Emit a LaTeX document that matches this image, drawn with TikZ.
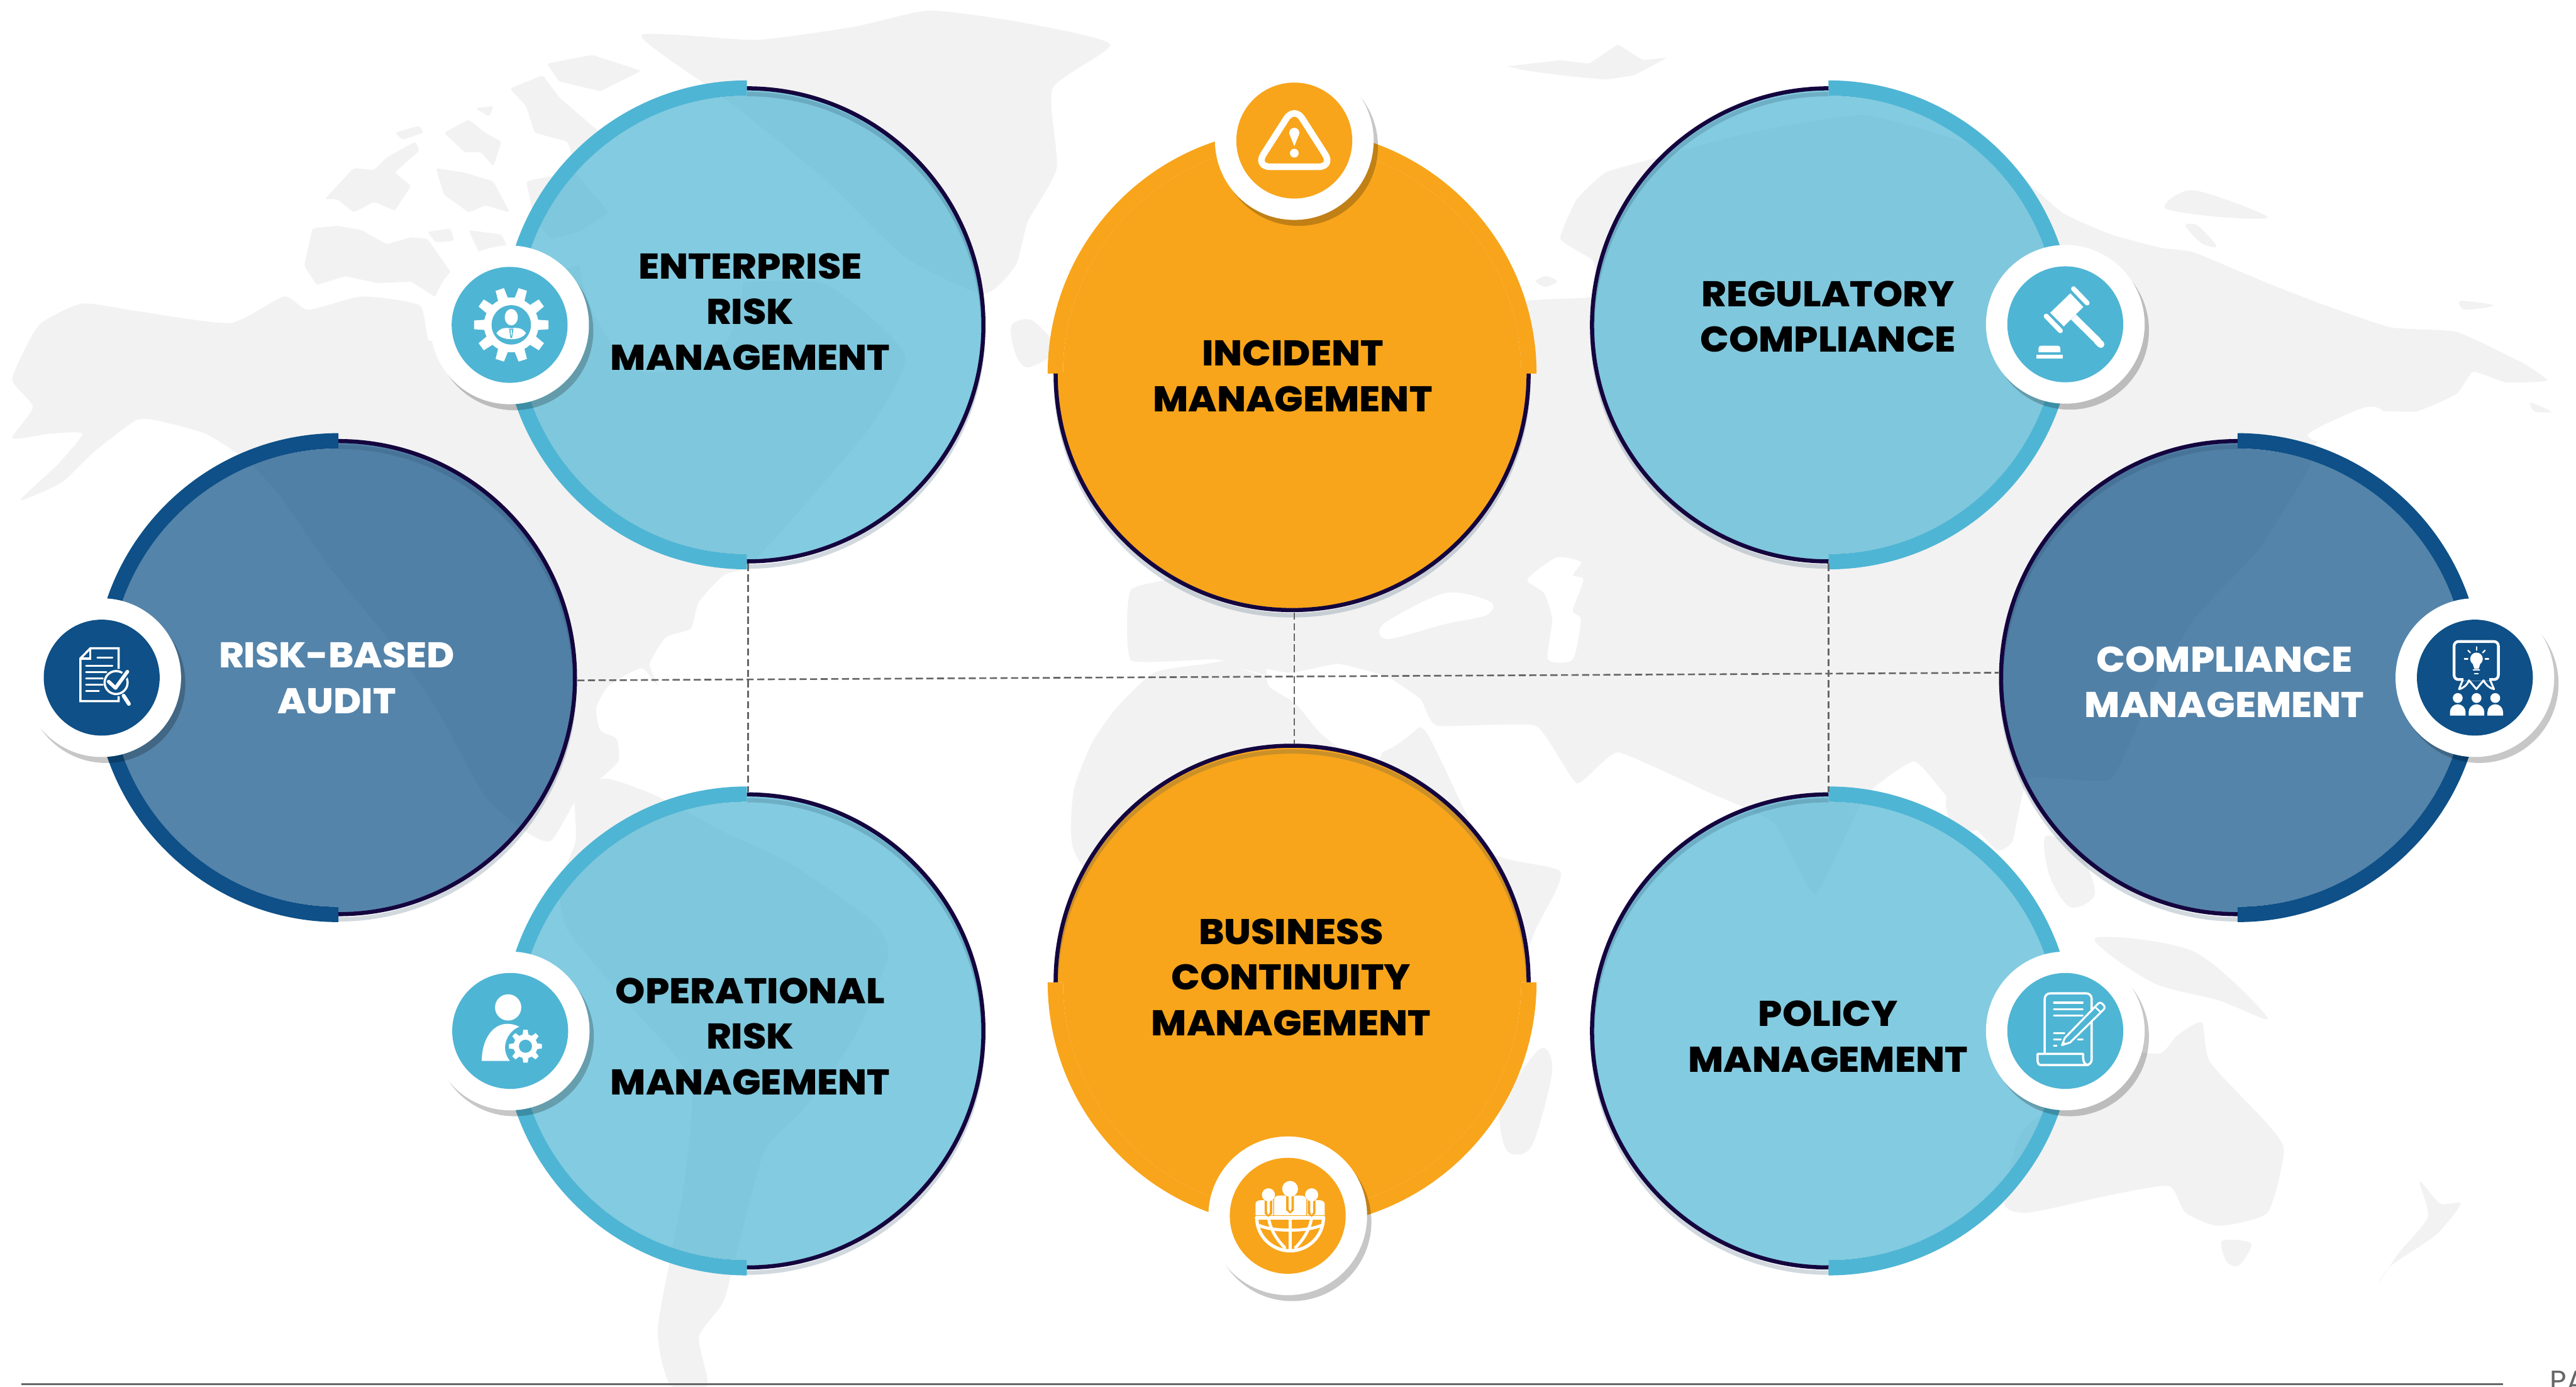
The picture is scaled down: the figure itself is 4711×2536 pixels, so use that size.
\documentclass[tikz,border=0pt]{standalone}
\usepackage{fontspec}
\setmainfont{Poppins}
\newfontfamily\labf{Poppins ExtraBold}[FakeStretch=1.06]
\definecolor{mapc}{HTML}{F2F2F2}
\definecolor{lblue}{HTML}{4FB5D4}
\definecolor{dblue}{HTML}{0E5087}
\definecolor{orng}{HTML}{F8A51B}
\definecolor{inkline}{HTML}{14053F}
\definecolor{dashc}{HTML}{666666}
\definecolor{shadc}{HTML}{1B3F5E}
\tikzset{
  lw/.style={line width=#1*0.2845pt},
  hub/.style={circle,minimum size=8.72cm,inner sep=0pt,draw=none},
  badgew/.style={circle,minimum size=2.9cm,inner sep=0pt,fill=white,draw=none},
  lab/.style={align=center,inner sep=0pt,font=\labf\fontsize{18.6}{23.8}\selectfont},
  link/.style={dashc,lw=3,dash pattern=on 3.7pt off 1.8pt},
  ico/.style={white,lw=4,line cap=round,line join=round},
  isle/.style={mapc,rounded corners=0.04cm},
}
\newcommand{\bub}[5]{%
  \fill[#3,fill opacity=#4,shift={(#1,#2)},rotate=#5] (0,419) arc (90:270:419) -- (0,-429) arc (-90:90:429) -- cycle;
  \draw[lw=8,shadc,opacity=.2,shift={(#1,#2-10)},rotate=#5] (0,-432) arc (-90:90:432);
  \fill[#3,shift={(#1,#2)},rotate=#5] (0,447) arc (90:270:447) -- (0,-419) arc (270:90:419) -- cycle;
  \draw[lw=7.5,inkline,shift={(#1,#2)},rotate=#5] (0,-432.5) arc (-90:90:432.5);
}
\newcommand{\badge}[5]{%
  \fill[black,opacity=.22] (#2+8,#3-11) circle (145);
  \node[badgew] (#1) at (#2,#3) {};
  \fill[#4] (#2,#3) circle (106);
  \begin{scope}[shift={(#2,#3)}]#5\end{scope}
}
\newcommand{\teeth}[4]{% n, r-root, r-tip, half width
  \foreach \a in {1,...,#1}{\fill[white,rotate=\a*360/#1] (#2,-#4-1.5) -- (#3,-#4) -- (#3,#4) -- (#2,#4+1.5) -- cycle;}
}
\begin{document}
\begin{tikzpicture}[x=0.01cm,y=0.01cm]
\useasboundingbox (0,0) rectangle (4711,-2536);
\clip (0,0) rectangle (4711,-2536);
\fill[white] (0,0) rectangle (4711,-2536);
% ---------- world map, left half
\begin{scope}[x=0.015026cm,y=-0.016173cm]
\fill[mapc] plot[smooth cycle,tension=.35] coordinates {(15,430)(30,395)(50,365)(100,343)(170,352)(280,365)(345,335)(375,350)(440,335)(510,345)(522,385)(560,370)(700,300)(850,320)(1000,320)(1100,400)(1060,480)(960,590)(910,640)(880,650)(850,680)(840,710)(810,720)(790,750)(800,775)(780,755)(740,775)(725,800)(730,825)(750,835)(752,860)(730,880)(700,905)(670,950)(640,940)(590,900)(530,800)(470,720)(400,640)(340,560)(300,520)(250,490)(190,475)(165,475)(115,510)(75,545)(25,565)(70,525)(100,490)(60,490)(15,495)(40,460)};
\fill[white] plot[smooth cycle,tension=.5] coordinates {(710,280)(800,240)(900,290)(880,390)(780,420)(720,350)};
\fill[mapc] plot[smooth cycle,tension=.35] coordinates {(780,40)(920,45)(1040,30)(1130,12)(1240,25)(1350,50)(1280,100)(1285,190)(1250,250)(1235,300)(1195,332)(1100,290)(1000,200)(880,110)};
% arctic islands
\fill[isle] (395,225) -- (415,205) -- (430,190) -- (455,192) -- (470,178) -- (505,160) -- (510,170) -- (480,195) -- (500,210) -- (480,238) -- (455,228) -- (430,240) -- (410,225) -- cycle;
\fill[isle] (370,300) -- (380,258) -- (410,255) -- (440,260) -- (470,276) -- (500,268) -- (520,270) -- (535,290) -- (550,310) -- (530,336) -- (500,318) -- (460,320) -- (420,312) -- (385,322) -- cycle;
\fill[isle] (540,150) -- (570,135) -- (590,150) -- (610,160) -- (600,188) -- (585,172) -- (565,172) -- cycle;
\fill[isle] (578,122) -- (600,120) -- (595,132) -- cycle;
\fill[isle] (620,100) -- (660,85) -- (680,110) -- (705,130) -- (730,150) -- (700,185) -- (690,160) -- (650,150) -- (640,120) -- cycle;
\fill[isle] (530,190) -- (565,195) -- (600,205) -- (620,240) -- (590,232) -- (570,240) -- (540,220) -- cycle;
\fill[isle] (665,72) -- (720,62) -- (780,80) -- (730,103) -- (680,92) -- cycle;
\fill[isle] (640,205) -- (665,200) -- (700,195) -- (740,240) -- (705,262) -- (670,270) -- (650,248) -- cycle;
\fill[isle] (570,260) -- (610,265) -- (625,295) -- (590,300) -- cycle;
\fill[isle] (480,150) -- (510,142) -- (515,150) -- (490,158) -- cycle;
\fill[isle] (520,262) -- (548,258) -- (552,272) -- (530,274) -- cycle;
\fill[mapc] plot[smooth cycle,tension=.5] coordinates {(1230,368)(1255,362)(1285,395)(1250,415)(1235,400)};
\fill[mapc] plot[smooth cycle,tension=.35] coordinates {(700,890)(740,880)(800,900)(880,940)(960,975)(1060,1040)(1080,1080)(1040,1170)(980,1250)(930,1300)(900,1400)(880,1470)(850,1510)(860,1565)(815,1565)(800,1500)(830,1350)(840,1220)(760,1130)(690,1050)(680,1000)(700,950)};
\end{scope}
% ---------- world map, right half
\begin{scope}[xshift=23.56cm,x=0.015026cm,y=-0.016173cm]
\fill[mapc] plot[smooth cycle,tension=.25] coordinates {(370,295)(330,270)(350,225)(385,195)(440,180)(560,150)(700,130)(850,170)(940,240)(1000,265)(1060,280)(1100,285)(1190,320)(1260,345)(1340,370)(1420,375)(1500,410)(1530,430)(1480,432)(1440,420)(1420,445)(1370,465)(1300,465)(1250,500)(1240,530)(1180,620)(1100,700)(1050,780)(1000,880)(900,880)(880,950)(860,960)(800,900)(760,860)(700,900)(640,1010)(590,930)(510,895)(400,850)(350,885)(300,820)(180,820)(160,790)(120,765)(60,750)(0,760)(-90,745)(-192,746)(-192,666)(-100,640)(-50,500)(100,380)(290,340)(370,335)};
\fill[mapc] plot[smooth cycle,tension=.35] coordinates {(-262,894)(-240,840)(-210,800)(-164,760)(-100,750)(-65,745)(-30,745)(-25,775)(8,795)(40,830)(100,870)(120,840)(165,825)(240,960)(330,985)(300,1050)(270,1120)(200,1220)(130,1290)(50,1330)(-50,1250)(-200,1050)(-262,960)};
\fill[mapc] plot[smooth cycle,tension=.5] coordinates {(305,1185)(320,1210)(295,1295)(265,1300)(258,1250)};
\fill[mapc] plot[smooth cycle,tension=.5] coordinates {(300,318)(312,312)(326,318)(312,324)};
\fill[white] plot[smooth cycle,tension=.5] coordinates {(115,705)(190,670)(245,680)(240,695)(190,705)(120,722)};
\fill[white] plot[smooth cycle,tension=.4] coordinates {(290,655)(325,630)(355,635)(345,650)(358,655)(345,690)(355,700)(345,745)(315,745)(320,700)(310,670)};
\fill[white] plot[smooth cycle,tension=.4] coordinates {(-60,755)(30,780)(90,775)(150,800)(165,815)(110,850)(40,815)(0,790)(-25,765)};
\fill[white] plot[smooth cycle,tension=.5] coordinates {(1240,490)(1310,460)(1330,470)(1270,500)};
\fill[isle] (265,75) -- (330,68) -- (365,72) -- (400,50) -- (430,68) -- (460,65) -- (420,85) -- (385,90) -- (330,85) -- (290,80) -- cycle;
\fill[mapc] plot[smooth cycle,tension=.5] coordinates {(1065,235)(1100,215)(1190,245)(1130,245)};
\fill[mapc] plot[smooth cycle,tension=.5] coordinates {(1090,255)(1105,255)(1128,278)(1110,275)};
\fill[mapc] plot[smooth cycle,tension=.5] coordinates {(1425,340)(1465,345)(1430,350)};
\fill[mapc] plot[smooth cycle,tension=.5] coordinates {(1510,455)(1535,465)(1515,465)};
\fill[mapc] plot[smooth cycle,tension=.5] coordinates {(800,900)(840,895)(850,930)(810,940)};
\fill[mapc] plot[smooth cycle,tension=.5] coordinates {(920,945)(960,960)(980,1010)(950,1025)(925,990)};
\fill[mapc] plot[smooth cycle,tension=.5] coordinates {(980,1060)(1100,1075)(1190,1150)(1130,1130)(1050,1110)};
\fill[mapc] plot[smooth cycle,tension=.35] coordinates {(1080,1170)(1110,1155)(1120,1200)(1190,1270)(1210,1300)(1190,1370)(1130,1385)(1090,1370)(1070,1340)(1000,1350)(900,1370)(870,1360)(890,1280)(960,1230)(1010,1190)(1060,1190)};
\fill[mapc] plot[smooth cycle,tension=.5] coordinates {(1135,1402)(1170,1405)(1155,1430)(1140,1425)};
\fill[mapc] plot[smooth cycle,tension=.4] coordinates {(1375,1335)(1400,1360)(1425,1360)(1395,1395)(1340,1430)(1325,1450)(1350,1415)(1385,1375)};
\end{scope}
% ---------- bubbles
\bub{1366}{-594}{lblue}{.7}{0}
\bub{1366}{-1885}{lblue}{.7}{0}
\bub{3344}{-594}{lblue}{.7}{180}
\bub{3344}{-1885}{lblue}{.7}{180}
\bub{619}{-1239}{dblue}{.7}{0}
\bub{4092}{-1239}{dblue}{.7}{180}
\bub{2363}{-683}{orng}{1}{-90}
\bub{2363}{-1796}{orng}{1}{90}
\node[hub] (erm) at (1366,-594) {};
\node[hub] (orm) at (1366,-1885) {};
\node[hub] (rc) at (3344,-594) {};
\node[hub] (pm) at (3344,-1885) {};
\node[hub] (rba) at (619,-1239) {};
\node[hub] (cm) at (4092,-1239) {};
\node[hub] (im) at (2363,-683) {};
\node[hub] (bcm) at (2363,-1796) {};
% ---------- connectors
\draw[link] ([xshift=0.02cm]erm.south) -- ([xshift=0.02cm]orm.north);
\draw[link] ([xshift=0.04cm]im.south) -- ([xshift=0.04cm]bcm.north);
\draw[link] (rc.south) -- (pm.north);
\draw[link] ([yshift=-0.05cm]rba.east) -- ([yshift=0.09cm]cm.west);
% ---------- labels
\node[lab] (t1) at (1372,-570) {ENTERPRISE\\RISK\\MANAGEMENT};
\node[lab] (t2) at (2364,-688) {INCIDENT\\MANAGEMENT};
\node[lab] (t3) at (3343,-579) {REGULATORY\\COMPLIANCE};
\node[lab,white] (t4) at (616,-1240) {RISK-BASED\\AUDIT};
\node[lab,white] (t5) at (4068,-1247) {COMPLIANCE\\MANAGEMENT};
\node[lab] (t6) at (1372,-1895) {OPERATIONAL\\RISK\\MANAGEMENT};
\node[lab] (t7) at (2361,-1787) {BUSINESS\\CONTINUITY\\MANAGEMENT};
\node[lab] (t8) at (3343,-1895) {POLICY\\MANAGEMENT};
% ---------- badges and icons
\badge{b1}{932}{-594}{lblue}{%
  \begin{scope}[shift={(3,0)}]
  \fill[white] (0,0) circle (50);
  \teeth{10}{46}{68}{8}
  \fill[lblue] (0,0) circle (36);
  \fill[white] (0,14) ellipse (12 and 15);
  \fill[white] (-27,-15) .. controls (-18,-3) and (-8,-6) .. (0,-6) .. controls (8,-6) and (18,-3) .. (27,-15) .. controls (18,-30) and (-18,-30) .. (-27,-15) -- cycle;
  \fill[lblue] (-4,-7) -- (4,-7) -- (1.5,-24) -- (-1.5,-24) -- cycle;
  \fill[white] (-1.5,-9) -- (1.5,-9) -- (.5,-20) -- (-.5,-20) -- cycle;
  \end{scope}}
\badge{b2}{2367}{-257}{orng}{%
  \draw[ico,lw=12,rounded corners=0.27cm] (0,63) -- (-71,-48) -- (71,-48) -- cycle;
  \fill[white] (-9.3,14) arc (180:0:9.3) -- (0,-10) -- cycle;
  \fill[white] (-9,12) -- (9,12) -- (0,-10) -- cycle;
  \fill[white] (0,-23) circle (8);}
\badge{b3}{3777}{-593}{lblue}{%
  \fill[white] (9.3,56.7) -- (33,31.7) -- (-2.7,-4) -- (-27.7,21) -- cycle;
  \draw[ico,lw=9] (15,65) -- (40,39);
  \draw[ico,lw=9] (-35,15) -- (-9,-11.7);
  \draw[ico,lw=13,line cap=butt] (15,13.3) -- (60,-31);
  \fill[white] (65,-36.7) circle (6.5);
  \draw[white,lw=13] (58,-29.7) -- (65,-36.7);
  \fill[white] (-49,-51) -- (-49,-44) .. controls (-49,-41) and (-47,-39) .. (-44,-39) -- (-14,-39) .. controls (-11,-39) and (-9,-41) .. (-9,-44) -- (-9,-51) -- cycle;
  \fill[white] (-53,-56) rectangle (-5,-63);}
\badge{b4}{186}{-1239}{dblue}{%
  \draw[ico,lw=4,line cap=butt,line join=miter] (31,16) -- (31,53.7) -- (-20.7,53.7) -- (-39,35) -- (-39,-43) -- (31,-43) -- (31,-34);
  \draw[ico,lw=4,line cap=butt,line join=miter] (-20.7,52) -- (-20.7,35) -- (-38,35);
  \draw[ico,lw=3] (-8,36.7) -- (19.7,36.7) (-28.7,21.7) -- (19.7,21.7) (-28.7,10) -- (8.7,10) (-28.7,-1.7) -- (2,-1.7) (-28.7,-13) -- (2,-13) (-28.7,-24.7) -- (-5,-24.7);
  \fill[dblue] (26.3,-9) circle (22);
  \draw[ico,lw=4] (26.3,-9) circle (21);
  \draw[ico,lw=7] (40,-33) -- (49.7,-48);
  \draw[dblue,lw=12] (12.7,-7.3) -- (25.3,-19) -- (47,11);
  \draw[ico,lw=6.5] (12.7,-7.3) -- (25.3,-19) -- (47,11);}
\badge{b5}{4526}{-1239}{dblue}{%
  \draw[ico,lw=5,rounded corners=0.08cm] (-38,66) rectangle (43,-3.5);
  \fill[dblue] (-21,-6) rectangle (26,-1);
  \draw[ico,lw=3.5] (-22,-4) -- (-29,-21) .. controls (-20,-19) and (-14,-13) .. (-10.7,-5) -- (2.7,-21) -- (16,-5) .. controls (20,-13) and (26,-19) .. (35,-21) -- (27.7,-4);
  \fill[white] (3,34.3) circle (11.5);
  \fill[white] (-5,29) -- (11,29) -- (7,16) -- (-1,16) -- cycle;
  \draw[ico,lw=2.5] (-3,13.7) -- (8.5,13.7) (-.5,7.5) -- (6,7.5);
  \foreach \a in {90,45,135,0,180}{\draw[ico,lw=2.5,shift={(3,34.3)},rotate=\a] (16,0) -- (22,0);}
  \foreach \c in {-31.3,3,37.3}{
    \fill[white] (\c,-37.3) circle (9);
    \fill[white] (\c-14.3,-69.3) -- (\c-14.3,-63) arc (180:0:14.3) -- (\c+14.3,-69.3) -- cycle;}}
\badge{b6}{933}{-1885}{lblue}{%
  \fill[white] (-3.7,43) circle (24);
  \fill[white] (-52,-54.7) .. controls (-52,-20) and (-35,13) .. (-5,13) .. controls (3,13) and (10,11) .. (16.7,7.7) .. controls (-4,0) and (-20,-30) .. (-0.7,-54.7) -- cycle;
  \begin{scope}[shift={(28,-28)}]
  \fill[white] (0,0) circle (22);
  \teeth{8}{20}{30}{4}
  \fill[lblue] (0,0) circle (12);
  \end{scope}}
\badge{b7}{2355}{-2223}{orng}{%
  \begin{scope}[shift={(4.3,0)}]
  \draw[ico,lw=6] (-61,-3) arc (180:360:61);
  \draw[ico,lw=7] (-61,-4) -- (61,-4);
  \draw[ico,lw=6] (0,-4) -- (0,-62);
  \draw[ico,lw=5.5] (-39,-6) .. controls (-35,-28) and (-22,-46) .. (-10,-58);
  \draw[ico,lw=5.5] (39,-6) .. controls (35,-28) and (22,-46) .. (10,-58);
  \draw[ico,lw=5.5] (-56,-18) .. controls (-30,-29) and (30,-29) .. (56,-18);
  \end{scope}
  \fill[white] (-24.7,1) -- (-24.7,30) .. controls (-24.7,35) and (-20,37) .. (-15,37) -- (24,37) .. controls (29,37) and (33.7,35) .. (33.7,30) -- (33.7,1) -- cycle;
  \fill[white] (-59,1) -- (-59,21) .. controls (-59,26) and (-55,28.3) .. (-50,28.3) -- (-26.3,28.3) -- (-26.3,1) -- cycle;
  \fill[white] (35.3,1) -- (35.3,28.3) -- (59,28.3) .. controls (63,28.3) and (67.7,26) .. (67.7,21) -- (67.7,1) -- cycle;
  \foreach \c/\t in {4.3/32,-35.3/26,43.7/26}{
    \fill[orng] (\c-7,\t+5) -- (\c+7,\t+5) -- (\c+7,\t-22) -- (\c,\t-28) -- (\c-7,\t-22) -- cycle;
    \fill[white] (\c-2.5,\t+4) -- (\c+2.5,\t+4) -- (\c+2.5,\t-20) -- (\c,\t-24) -- (\c-2.5,\t-20) -- cycle;}
  \fill[orng] (-26.3,0) rectangle (-24.7,28);
  \fill[orng] (33.7,0) rectangle (35.3,28);
  \fill[white] (4.3,49.3) circle (14.5);
  \fill[white] (-35.3,38.3) circle (12);
  \fill[white] (43.7,38.3) circle (12);}
\badge{b8}{3777}{-1885}{lblue}{%
  \draw[ico,lw=4,rounded corners=0.1cm] (-37.7,-42) -- (-37.7,68.7) -- (48.3,68.7) -- (48.3,-62.3) -- (38,-62.3);
  \draw[ico,lw=4] (-45,-62.3) .. controls (-49,-62.3) and (-50.7,-58) .. (-50.7,-55) -- (-50.7,-42) -- (32.7,-42) -- (32.7,-50) .. controls (32.7,-58) and (37,-62.3) .. (42,-62.3) -- (-45,-62.3);
  \draw[ico,lw=3.5] (-20.7,51.7) -- (31.7,51.7) (-20.7,39.7) -- (31.7,39.7) (-20.7,28) -- (31.7,28) (-20.7,-3.7) -- (-1.7,-3.7) (-20.7,-15.3) -- (-8.3,-15.3) (23.3,-15.3) -- (31.7,-15.3) (-20.7,-27) -- (-16,-27);
  \fill[lblue] (0,-14.7) -- (61.7,48.7) -- (71.7,41.3) -- (8.3,-22.3) -- cycle;
  \draw[ico,lw=3.5] (-6,-26) -- (-1,-13) -- (60,50) .. controls (64,54) and (68,50) .. (71,46) .. controls (73,43) and (72,41) .. (70,39) -- (9,-21) -- cycle;
  \draw[ico,lw=3] (54,44) -- (64,35);
  \fill[white] (-6,-26) -- (-3.8,-19.5) -- (1,-23) -- cycle;}
% ---------- footer
\coordinate (fl) at (39,-2531);
\coordinate (fr) at (4577,-2531);
\draw[dashc,lw=3] (fl) -- (fr);
\node[anchor=north west,inner sep=0pt,text=dashc,font=\fontsize{15}{18}\selectfont] (pa) at (4663,-2506) {PA};
\end{tikzpicture}
\end{document}
